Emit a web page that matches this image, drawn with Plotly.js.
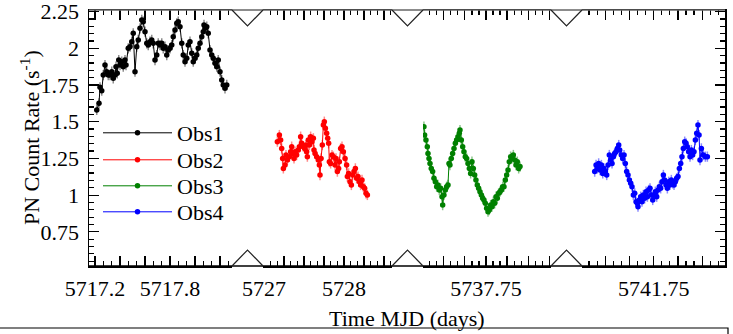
<!DOCTYPE html>
<html>
<head>
<meta charset="utf-8">
<script src="https://cdn.plot.ly/plotly-3.0.1.min.js"></script>
<style>html,body{margin:0;padding:0;background:#fff;}#chart{width:733px;height:334px;}</style>
</head>
<body>
<div id="chart"></div>
<script>
// ---------------- data ----------------
const obs1_t = [5717.214,5717.232,5717.240,5717.254,5717.266,5717.280,5717.294,5717.306,5717.320,5717.334,5717.346,5717.360,5717.368,5717.378,5717.390,5717.400,5717.414,5717.426,5717.440,5717.448,5717.466,5717.480,5717.494,5717.506,5717.520,5717.534,5717.546,5717.560,5717.574,5717.586,5717.600,5717.614,5717.626,5717.640,5717.654,5717.666,5717.680,5717.694,5717.706,5717.720,5717.734,5717.746,5717.760,5717.774,5717.786,5717.800,5717.814,5717.826,5717.840,5717.854,5717.866,5717.880,5717.894,5717.906,5717.920,5717.934,5717.946,5717.960,5717.974,5717.986,5718.000,5718.014,5718.026,5718.040,5718.054,5718.066,5718.072,5718.080,5718.094,5718.106,5718.120,5718.134,5718.146,5718.160,5718.174,5718.186,5718.200,5718.214,5718.226,5718.240,5718.254];
const obs1_rate = [1.580,1.625,1.734,1.711,1.818,1.886,1.841,1.818,1.818,1.841,1.796,1.818,1.875,1.830,1.920,1.886,1.909,1.875,1.920,1.886,2.000,2.011,2.045,2.102,1.841,2.011,2.057,2.136,2.193,2.181,2.113,2.034,2.022,2.045,2.057,2.034,1.920,1.954,2.034,2.022,2.034,2.000,2.011,1.954,1.988,2.000,2.022,2.079,2.125,2.170,2.181,2.147,2.034,1.954,1.909,1.932,2.022,2.045,1.966,1.909,1.932,1.954,2.000,2.034,2.079,2.113,2.159,2.136,2.147,2.102,1.988,1.954,1.932,1.898,1.875,1.920,1.841,1.784,1.750,1.728,1.750];

const obs2_t = [5727.167,5727.192,5727.208,5727.221,5727.233,5727.242,5727.263,5727.275,5727.292,5727.317,5727.333,5727.346,5727.358,5727.375,5727.388,5727.408,5727.429,5727.442,5727.458,5727.471,5727.492,5727.508,5727.525,5727.533,5727.542,5727.554,5727.567,5727.583,5727.600,5727.617,5727.625,5727.638,5727.658,5727.679,5727.692,5727.700,5727.713,5727.729,5727.742,5727.754,5727.767,5727.783,5727.796,5727.808,5727.817,5727.833,5727.850,5727.867,5727.888,5727.900,5727.917,5727.933,5727.942,5727.958,5727.975,5727.992,5728.013,5728.033,5728.042,5728.058,5728.075,5728.092,5728.108,5728.125,5728.142,5728.158,5728.175,5728.192,5728.208,5728.225,5728.242,5728.258,5728.275,5728.292];
const obs2_rate = [1.364,1.409,1.375,1.318,1.250,1.182,1.205,1.273,1.239,1.262,1.296,1.330,1.284,1.250,1.296,1.273,1.307,1.330,1.398,1.353,1.330,1.318,1.341,1.296,1.262,1.375,1.341,1.398,1.364,1.387,1.307,1.284,1.262,1.239,1.205,1.137,1.250,1.341,1.477,1.500,1.455,1.421,1.387,1.353,1.228,1.216,1.273,1.262,1.205,1.250,1.160,1.182,1.228,1.318,1.330,1.296,1.250,1.205,1.126,1.148,1.091,1.069,1.137,1.160,1.182,1.114,1.126,1.091,1.069,1.103,1.057,1.046,1.012,1.001];

const obs3_t = [5737.015,5737.023,5737.039,5737.055,5737.063,5737.075,5737.087,5737.102,5737.118,5737.134,5737.150,5737.166,5737.181,5737.197,5737.213,5737.229,5737.237,5737.252,5737.268,5737.284,5737.300,5737.312,5737.323,5737.339,5737.355,5737.371,5737.387,5737.402,5737.418,5737.434,5737.442,5737.458,5737.474,5737.489,5737.505,5737.521,5737.537,5737.553,5737.568,5737.584,5737.600,5737.616,5737.631,5737.647,5737.663,5737.679,5737.695,5737.711,5737.726,5737.742,5737.758,5737.774,5737.789,5737.805,5737.821,5737.837,5737.853,5737.869,5737.884,5737.900,5737.916,5737.932,5737.948,5737.963,5737.979,5737.995,5738.011,5738.026,5738.042,5738.058,5738.074,5738.090,5738.105,5738.121,5738.137,5738.153];
const obs3_rate = [1.466,1.409,1.375,1.330,1.284,1.250,1.216,1.182,1.160,1.114,1.091,1.057,1.069,1.035,1.046,0.989,0.932,1.001,1.035,1.057,1.069,1.216,1.205,1.250,1.284,1.318,1.353,1.375,1.398,1.421,1.443,1.375,1.330,1.296,1.262,1.250,1.216,1.182,1.148,1.228,1.182,1.137,1.103,1.069,1.046,1.023,1.001,0.978,0.967,0.944,0.910,0.887,0.898,0.932,0.921,0.955,0.944,0.989,0.978,1.012,1.023,1.035,1.057,1.057,1.103,1.137,1.171,1.228,1.262,1.250,1.273,1.239,1.205,1.228,1.182,1.194];

const obs4_t = [5741.141,5741.155,5741.169,5741.182,5741.196,5741.210,5741.224,5741.237,5741.251,5741.265,5741.279,5741.292,5741.306,5741.320,5741.334,5741.347,5741.361,5741.375,5741.389,5741.399,5741.416,5741.430,5741.444,5741.457,5741.471,5741.485,5741.499,5741.513,5741.526,5741.540,5741.554,5741.568,5741.581,5741.588,5741.602,5741.616,5741.629,5741.643,5741.657,5741.671,5741.685,5741.698,5741.712,5741.726,5741.740,5741.753,5741.767,5741.781,5741.795,5741.808,5741.822,5741.836,5741.850,5741.863,5741.877,5741.891,5741.905,5741.918,5741.932,5741.946,5741.960,5741.973,5741.987,5742.001,5742.015,5742.029,5742.042,5742.056,5742.070,5742.084,5742.097,5742.111,5742.125,5742.139,5742.152,5742.166,5742.180,5742.194,5742.207,5742.218,5742.228,5742.242,5742.262,5742.283,5742.304];
const obs4_rate = [1.160,1.205,1.182,1.216,1.171,1.205,1.148,1.182,1.160,1.137,1.205,1.273,1.239,1.216,1.262,1.284,1.296,1.318,1.341,1.307,1.273,1.250,1.273,1.216,1.160,1.137,1.103,1.080,1.057,1.001,1.012,0.955,0.944,0.921,0.967,0.989,0.955,1.001,0.978,1.023,0.989,1.035,1.046,1.001,0.967,1.001,1.023,0.989,1.035,1.057,1.046,1.091,1.137,1.103,1.069,1.046,1.091,1.069,1.103,1.080,1.069,1.091,1.114,1.126,1.182,1.216,1.262,1.318,1.364,1.353,1.330,1.296,1.262,1.307,1.273,1.296,1.375,1.421,1.477,1.409,1.239,1.318,1.273,1.262,1.262];

const rateErr = [0.035, 0.035, 0.035, 0.035];   // 1-sigma rate error per observation
const timeErr = [0.006, 0.008, 0.008, 0.008];   // half bin width (days)

const seriesNames = ['Obs1', 'Obs2', 'Obs3', 'Obs4'];
const seriesColors = ['#000000', '#ff0000', '#008000', '#0000ff'];
const errColors = ['rgba(0,0,0,0.45)', 'rgba(255,0,0,0.45)', 'rgba(0,128,0,0.45)', 'rgba(0,0,255,0.45)'];

// axis segments (broken time axis)
const xRanges = [[5717.152, 5718.296], [5726.9875, 5728.6], [5737.004, 5738.52], [5741.01, 5742.486]];
const majorTicks = [
  [5717.2, 5717.4, 5717.6, 5717.8, 5718.0, 5718.2],
  [5727, 5727.25, 5727.5, 5727.75, 5728, 5728.25, 5728.5],
  [5737, 5737.25, 5737.5, 5737.75, 5738, 5738.25, 5738.5],
  [5741, 5741.25, 5741.5, 5741.75, 5742, 5742.25]
];
const tickLabels = [
  ['5717.2', '', '', '5717.8', '', ''],
  ['5727', '', '', '', '5728', '', ''],
  ['5737', '', '', '5737.75', '', '', ''],
  ['5741', '', '', '5741.75', '', '']
];
const minorStep = [0.2 / 3, 0.25 / 3, 0.25 / 3, 0.25 / 3];
const yRange = [0.517, 2.261];

// ---------------- layout geometry ----------------
const W = 733, H = 334;
const M = {l: 89, r: 8, t: 10, b: 68};
const PW = W - M.l - M.r, PH = H - M.t - M.b;
const segPx = [[0, 143], [174, 303], [334, 462], [493, 636]];
const domains = segPx.map(s => [s[0] / PW, s[1] / PW]);
const legendRowY = [133, 160, 186, 212];   // pixel centre of each legend row

const FONT = 'Liberation Serif';
const legendKeys = ['legend', 'legend2', 'legend3', 'legend4'];

const ts = [obs1_t, obs2_t, obs3_t, obs4_t];
const rs = [obs1_rate, obs2_rate, obs3_rate, obs4_rate];
const traces = ts.map((t, i) => ({
  type: 'scatter',
  mode: 'lines+markers',
  name: seriesNames[i],
  legend: legendKeys[i],
  x: t,
  y: rs[i],
  xaxis: i === 0 ? 'x' : 'x' + (i + 1),
  yaxis: i === 3 ? 'y2' : 'y',
  line: {color: seriesColors[i], width: 1},
  marker: {color: seriesColors[i], size: 5.5},
  error_y: {type: 'constant', value: rateErr[i], color: errColors[i], thickness: 1.5, width: 0},
  error_x: {type: 'constant', value: timeErr[i], color: errColors[i], thickness: 1, width: 0}
}));

const layout = {
  width: W, height: H,
  margin: M,
  paper_bgcolor: '#fff', plot_bgcolor: '#fff',
  font: {family: FONT, size: 22, color: '#000'},
  showlegend: true,
  yaxis: {range: yRange, anchor: 'x', side: 'left', showgrid: false, zeroline: false,
          showline: true, linecolor: '#000', linewidth: 1.5,
          ticks: 'inside', ticklen: 10, tickwidth: 1.2, tickcolor: '#000',
          tickmode: 'linear', tick0: 0, dtick: 0.25, ticklabeloverflow: 'allow',
          minor: {ticks: 'inside', ticklen: 5, tickcolor: '#000', dtick: 0.05, tick0: 0, showgrid: false},
          tickfont: {family: FONT, size: 22}, ticklabelstandoff: 4},
  yaxis2: {range: yRange, anchor: 'x4', overlaying: 'y', side: 'right', showgrid: false, zeroline: false,
           showline: true, linecolor: '#000', linewidth: 1.5, showticklabels: false,
           ticks: 'inside', ticklen: 10, tickwidth: 1.2, tickcolor: '#000',
           tickmode: 'linear', tick0: 0, dtick: 0.25,
           minor: {ticks: 'inside', ticklen: 5, tickcolor: '#000', dtick: 0.05, tick0: 0, showgrid: false}},
  shapes: [],
  annotations: [
    {text: 'Time MJD (days)', xref: 'paper', yref: 'paper', x: 0.5, y: -(318 - (H - M.b)) / PH,
     xanchor: 'center', yanchor: 'middle', showarrow: false, font: {family: FONT, size: 22, color: '#000'}},
    {text: 'PN Count Rate (s<sup>-1</sup>)', xref: 'paper', yref: 'paper', x: (30 - M.l) / PW, y: 0.5,
     xanchor: 'center', yanchor: 'middle', textangle: -90, showarrow: false,
     font: {family: FONT, size: 22, color: '#000'}}
  ]
};

legendKeys.forEach((k, i) => {
  layout[k] = {x: (98 - M.l) / PW, y: (H - M.b - legendRowY[i]) / PH, xanchor: 'left', yanchor: 'middle',
               bgcolor: 'rgba(0,0,0,0)', borderwidth: 0, itemwidth: 69,
               font: {family: FONT, size: 22, color: '#000'}};
});

for (let i = 0; i < 4; i++) {
  const key = i === 0 ? 'xaxis' : 'xaxis' + (i + 1);
  layout[key] = {
    domain: domains[i], range: xRanges[i], anchor: i === 3 ? 'y2' : 'y',
    showgrid: false, zeroline: false, showline: true, linecolor: '#000', linewidth: 1.5,
    mirror: 'ticks', ticks: 'inside', ticklen: 10, tickwidth: 1.2, tickcolor: '#000',
    tickmode: 'array', tickvals: majorTicks[i], ticktext: tickLabels[i], ticklabeloverflow: 'allow',
    minor: {ticks: 'inside', ticklen: 5, tickcolor: '#000', tickmode: 'linear',
            tick0: majorTicks[i][0], dtick: minorStep[i], showgrid: false},
    tickfont: {family: FONT, size: 22}, ticklabelstandoff: 2
  };
}

// frame and axis-break marks
const depth = 16 / PH;
layout.shapes.push({type: 'line', xref: 'paper', yref: 'paper', x0: 0, x1: 1, y0: 1, y1: 1,
                    line: {color: '#666', width: 1.5}, layer: 'above'});
layout.shapes.push({type: 'line', xref: 'paper', yref: 'paper', x0: 0, x1: 1, y0: 0, y1: 0,
                    line: {color: '#000', width: 1.5}, layer: 'above'});
for (let i = 0; i < 3; i++) {
  const a = domains[i][1], b = domains[i + 1][0], m = (a + b) / 2;
  layout.shapes.push({type: 'path', xref: 'paper', yref: 'paper',
    path: `M ${a} 1 L ${m} ${1 - depth} L ${b} 1`, line: {color: '#222', width: 1.2}, layer: 'above'});
  layout.shapes.push({type: 'path', xref: 'paper', yref: 'paper',
    path: `M ${a} 0 L ${m} ${depth} L ${b} 0`, line: {color: '#222', width: 1.2}, layer: 'above'});
}
// outer frame fragment below the chart
const fy = -(328 - (H - M.b)) / PH, fx0 = -M.l / PW, fx1 = (728 - M.l) / PW, fy2 = -(H + 10 - (H - M.b)) / PH;
layout.shapes.push({type: 'path', xref: 'paper', yref: 'paper',
  path: `M ${fx0} ${fy} L ${fx1} ${fy} L ${fx1} ${fy2}`, line: {color: '#000', width: 1.2}, layer: 'above'});

Plotly.newPlot('chart', traces, layout, {displayModeBar: false, staticPlot: true});
</script>
</body>
</html>
